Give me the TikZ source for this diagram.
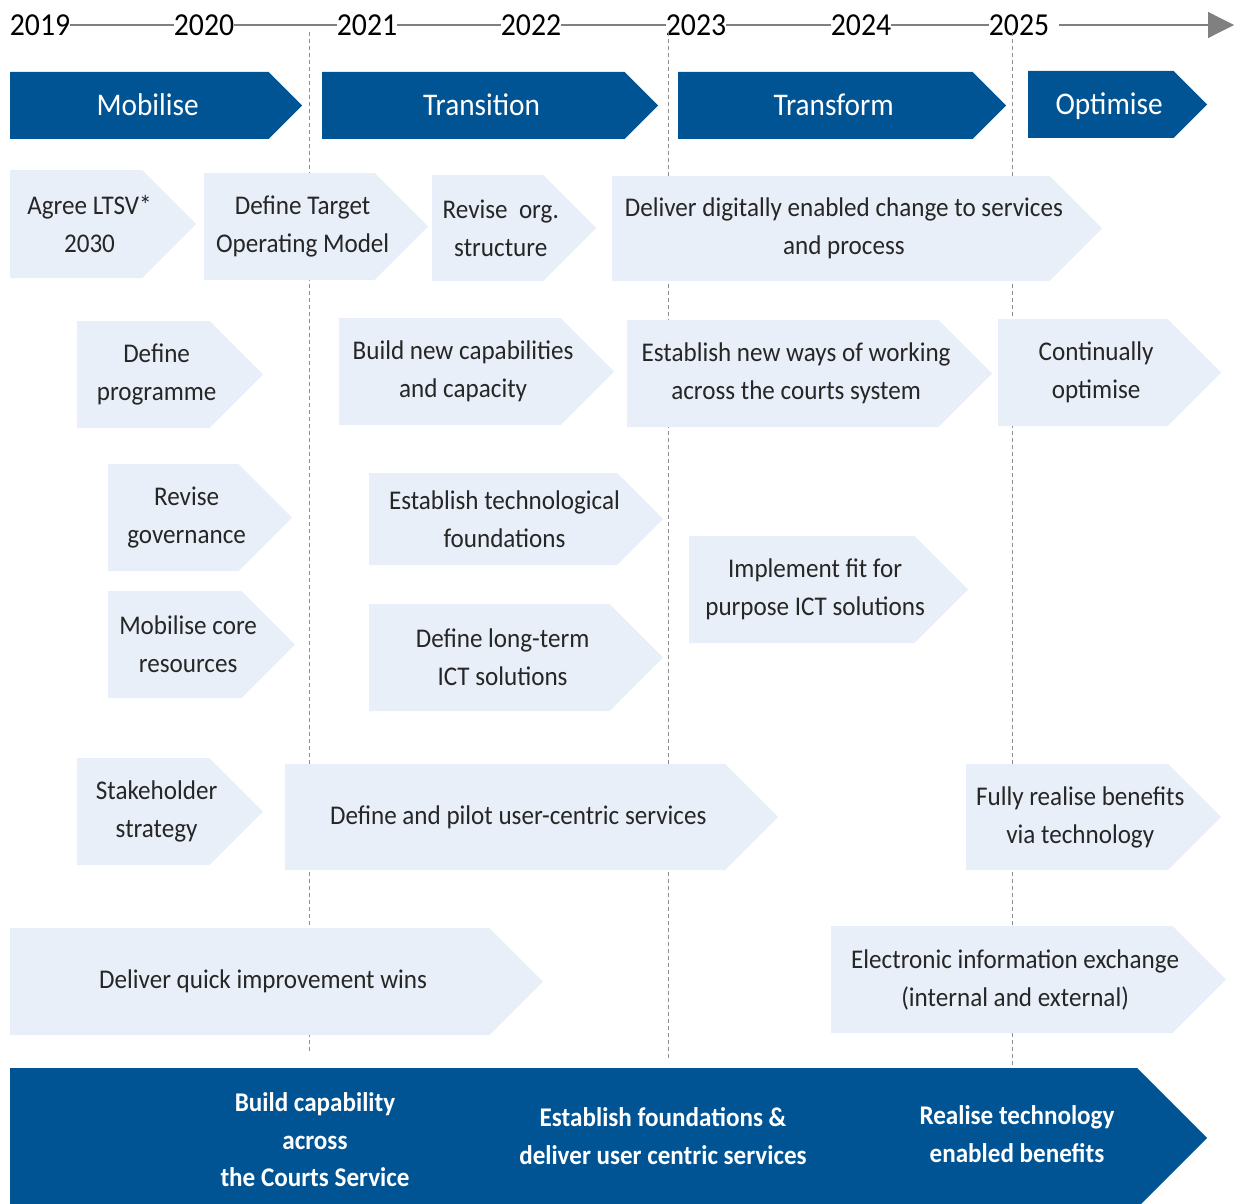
\documentclass[tikz,border=0pt]{standalone}
\usepackage{fontspec}
\setmainfont{Carlito}[FakeStretch=0.93]
\usetikzlibrary{arrows.meta}
\definecolor{phaseblue}{RGB}{0,84,147}
\definecolor{boxblue}{RGB}{232,239,248}
\definecolor{axisgray}{RGB}{128,128,128}
% arrow shaped box: [style] name, left, top, bottom, tip x, text
\newcommand{\stagebox}[7][light]{%
	\fill[#1 fill] (#3,#4) -- ({#6-(#5-#4)/2},#4) -- (#6,{(#4+#5)/2}) -- ({#6-(#5-#4)/2},#5) -- (#3,#5) -- cycle;
	\node[#1 text] (#2) at ({(#3+#6)/2-(#5-#4)/8},{(#4+#5)/2}) {#7};}
\tikzset{
	light fill/.style={fill=boxblue},
	light text/.style={text=black!85, align=center, inner sep=0, font=\fontsize{27}{38}\selectfont},
	dark fill/.style={fill=phaseblue},
	dark text/.style={text=white, inner sep=0, text height=27pt, text depth=6pt, font=\fontsize{31.5}{38}\selectfont},
	year/.style={inner xsep=0, font=\fontsize{32}{38}\selectfont},
	axis/.style={draw=axisgray, line width=1.2pt},
	phase line/.style={draw=axisgray!90, dash pattern=on 4pt off 3pt, line width=1pt},
	banner text/.style={text=white, align=center, font=\bfseries\fontsize{27}{37.5}\selectfont}
}
\begin{document}
\begin{tikzpicture}[x=1pt, y=-1pt, line join=round]
	\useasboundingbox (0,0) rectangle (1234,1204);
	% time line
	\foreach \yr/\xx in {2019/40,2020/204,2021/367,2022/531,2023/696,2024/861,2025/1019}
		\node[year] (y\yr) at (\xx,25) {\yr};
	\draw[axis] (y2019.east) -- (y2020.west) (y2020.east) -- (y2021.west) (y2021.east) -- (y2022.west)
		(y2022.east) -- (y2023.west) (y2023.east) -- (y2024.west) (y2024.east) -- (y2025.west);
	\draw[axis, -{Triangle[length=26pt, width=26pt]}, draw=axisgray, fill=axisgray] ([xshift=10]y2025.east) -- (1234,25);
	% phase borders
	\draw[phase line] (309,32) -- (309,1052);
	\draw[phase line] (668,32) -- (668,1060);
	\draw[phase line] (1012,32) -- (1012,1066);
	% phases
	\stagebox[dark]{mobilise}{10}{72}{139}{302}{Mobilise}
	\stagebox[dark]{transition}{322}{72}{139}{658}{Transition}
	\stagebox[dark]{transform}{678}{72}{139}{1006}{Transform}
	\stagebox[dark]{optimise}{1028}{71}{138}{1207}{Optimise}
	% activities
	\stagebox{agree}{10}{170}{278}{196}{Agree LTSV*\\2030}
	\stagebox{tom}{204}{173}{280}{428}{Define Target\\Operating Model}
	\stagebox{org}{432}{175}{281}{596}{Revise\ \ org.\\structure}
	\stagebox{digital}{612}{176}{281}{1102}{Deliver digitally enabled change to services\\and process}
	\stagebox{programme}{77}{321}{428}{263}{Define\\programme}
	\stagebox{capab}{339}{318}{425}{614}{Build new capabilities\\and capacity}
	\stagebox{ways}{627}{320}{427}{992}{Establish new ways of working\\across the courts system}
	\stagebox{optim}{998}{319}{426}{1221}{Continually\\optimise}
	\stagebox{govern}{108}{464}{571}{292}{Revise\\governance}
	\stagebox{techfound}{369}{473}{565}{663}{Establish technological\\foundations}
	\stagebox{core}{108}{591}{698}{295}{Mobilise core\\resources}
	\stagebox{ict}{369}{604}{711}{663}{Define long-term\\ICT solutions}
	\stagebox{fitict}{689}{536}{643}{968}{Implement fit for\\purpose ICT solutions}
	\stagebox{stake}{77}{758}{865}{263}{Stakeholder\\strategy}
	\stagebox{pilot}{285}{764}{870}{778}{Define and pilot user-centric services}
	\stagebox{benefits}{966}{764}{870}{1221}{Fully realise benefits\\via technology}
	\stagebox{quickwins}{10}{928}{1035}{543}{Deliver quick improvement wins}
	\stagebox{exchange}{831}{926}{1033}{1226}{Electronic information exchange\\(internal and external)}
	% outcome banner
	\fill[dark fill] (10,1068) -- (1137,1068) -- (1207,1138) -- (1137,1208) -- (10,1208) -- cycle;
	\node[banner text] (capability) at (315,1140) {Build capability\\across\\the Courts Service};
	\node[banner text] (foundations) at (663,1136) {Establish foundations \&\\deliver user centric services};
	\node[banner text] (realise) at (1017,1134) {Realise technology\\enabled benefits};
\end{tikzpicture}
\end{document}
